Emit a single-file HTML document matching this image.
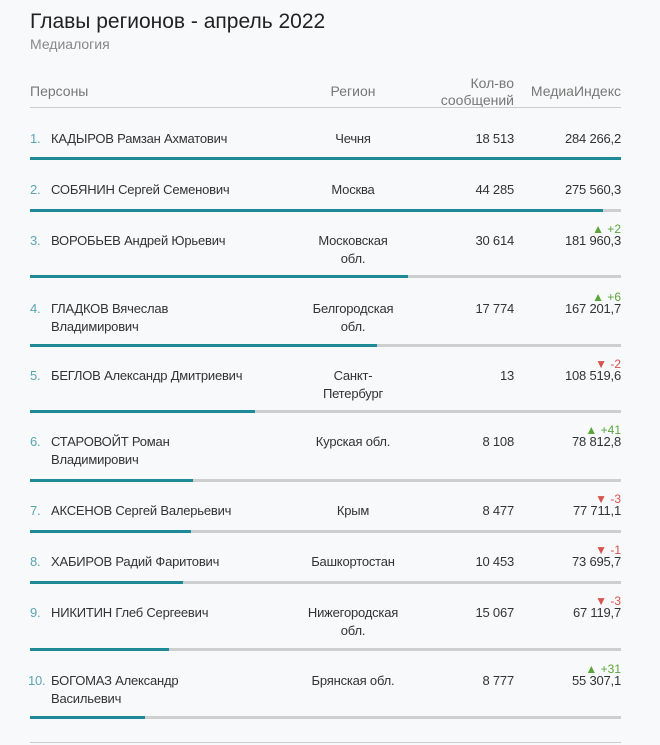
<!DOCTYPE html>
<html><head><meta charset="utf-8"><style>
body{margin:0;width:660px;height:745px;background:#f8f9fa;font-family:"Liberation Sans","DejaVu Sans",sans-serif;color:#333;position:relative;overflow:hidden}
div{position:absolute}
.t{font-size:13px;line-height:18px;letter-spacing:-0.2px}
.n{left:30px;color:#5aa4b2}
.nm{left:51px;width:230px}
.rg{left:293px;width:120px;text-align:center}
.ct{left:430px;width:84px;text-align:right}
.ix{left:520px;width:101px;text-align:right}
.ch{font-size:12px;line-height:14px;left:540px;width:81px;text-align:right}
.up{color:#5aa63a}.dn{color:#d9534f}
.bg{left:30px;width:591px;height:3px;background:#cfcfcf}
.b{left:30px;height:3px;background:#1e8a98}
.h{font-size:14px;color:#777;line-height:17px}
</style></head><body>
<div style="left:30px;top:10px;font-size:21px;color:#222">Главы регионов - апрель 2022</div>
<div style="left:30px;top:36px;font-size:14px;color:#888">Медиалогия</div>
<div class="h" style="left:30px;top:83px">Персоны</div>
<div class="h" style="left:293px;top:83px;width:120px;text-align:center">Регион</div>
<div class="h" style="left:420px;top:75px;width:94px;text-align:right">Кол-во<br>сообщений</div>
<div class="h" style="left:515px;top:83px;width:106px;text-align:right">МедиаИндекс</div>
<div style="left:30px;top:107px;width:591px;height:1px;background:#ccc"></div>

<div class="t n" style="top:130px">1.</div><div class="t nm" style="top:130px">КАДЫРОВ Рамзан Ахматович</div><div class="t rg" style="top:130px">Чечня</div><div class="t ct" style="top:130px">18 513</div><div class="t ix" style="top:130px">284 266,2</div>
<div class="bg" style="top:157px"></div><div class="b" style="top:157px;width:591px"></div>

<div class="t n" style="top:181px">2.</div><div class="t nm" style="top:181px">СОБЯНИН Сергей Семенович</div><div class="t rg" style="top:181px">Москва</div><div class="t ct" style="top:181px">44 285</div><div class="t ix" style="top:181px">275 560,3</div>
<div class="bg" style="top:209px"></div><div class="b" style="top:209px;width:573px"></div>

<div class="ch up" style="top:222px">▲ +2</div>
<div class="t n" style="top:232px">3.</div><div class="t nm" style="top:232px">ВОРОБЬЕВ Андрей Юрьевич</div><div class="t rg" style="top:232px">Московская<br>обл.</div><div class="t ct" style="top:232px">30 614</div><div class="t ix" style="top:232px">181 960,3</div>
<div class="bg" style="top:275px"></div><div class="b" style="top:275px;width:378px"></div>

<div class="ch up" style="top:290px">▲ +6</div>
<div class="t n" style="top:300px">4.</div><div class="t nm" style="top:300px">ГЛАДКОВ Вячеслав<br>Владимирович</div><div class="t rg" style="top:300px">Белгородская<br>обл.</div><div class="t ct" style="top:300px">17 774</div><div class="t ix" style="top:300px">167 201,7</div>
<div class="bg" style="top:344px"></div><div class="b" style="top:344px;width:347px"></div>

<div class="ch dn" style="top:357px">▼ -2</div>
<div class="t n" style="top:367px">5.</div><div class="t nm" style="top:367px">БЕГЛОВ Александр Дмитриевич</div><div class="t rg" style="top:367px">Санкт-<br>Петербург</div><div class="t ct" style="top:367px">13</div><div class="t ix" style="top:367px">108 519,6</div>
<div class="bg" style="top:410px"></div><div class="b" style="top:410px;width:225px"></div>

<div class="ch up" style="top:423px">▲ +41</div>
<div class="t n" style="top:433px">6.</div><div class="t nm" style="top:433px">СТАРОВОЙТ Роман<br>Владимирович</div><div class="t rg" style="top:433px">Курская обл.</div><div class="t ct" style="top:433px">8 108</div><div class="t ix" style="top:433px">78 812,8</div>
<div class="bg" style="top:479px"></div><div class="b" style="top:479px;width:163px"></div>

<div class="ch dn" style="top:492px">▼ -3</div>
<div class="t n" style="top:502px">7.</div><div class="t nm" style="top:502px">АКСЕНОВ Сергей Валерьевич</div><div class="t rg" style="top:502px">Крым</div><div class="t ct" style="top:502px">8 477</div><div class="t ix" style="top:502px">77 711,1</div>
<div class="bg" style="top:530px"></div><div class="b" style="top:530px;width:161px"></div>

<div class="ch dn" style="top:543px">▼ -1</div>
<div class="t n" style="top:553px">8.</div><div class="t nm" style="top:553px">ХАБИРОВ Радий Фаритович</div><div class="t rg" style="top:553px">Башкортостан</div><div class="t ct" style="top:553px">10 453</div><div class="t ix" style="top:553px">73 695,7</div>
<div class="bg" style="top:581px"></div><div class="b" style="top:581px;width:153px"></div>

<div class="ch dn" style="top:594px">▼ -3</div>
<div class="t n" style="top:604px">9.</div><div class="t nm" style="top:604px">НИКИТИН Глеб Сергеевич</div><div class="t rg" style="top:604px">Нижегородская<br>обл.</div><div class="t ct" style="top:604px">15 067</div><div class="t ix" style="top:604px">67 119,7</div>
<div class="bg" style="top:648px"></div><div class="b" style="top:648px;width:139px"></div>

<div class="ch up" style="top:662px">▲ +31</div>
<div class="t n" style="top:672px;left:28px">10.</div><div class="t nm" style="top:672px">БОГОМАЗ Александр<br>Васильевич</div><div class="t rg" style="top:672px">Брянская обл.</div><div class="t ct" style="top:672px">8 777</div><div class="t ix" style="top:672px">55 307,1</div>
<div class="bg" style="top:716px"></div><div class="b" style="top:716px;width:115px"></div>

<div style="left:30px;top:742px;width:591px;height:1px;background:#ccc"></div>
</body></html>
